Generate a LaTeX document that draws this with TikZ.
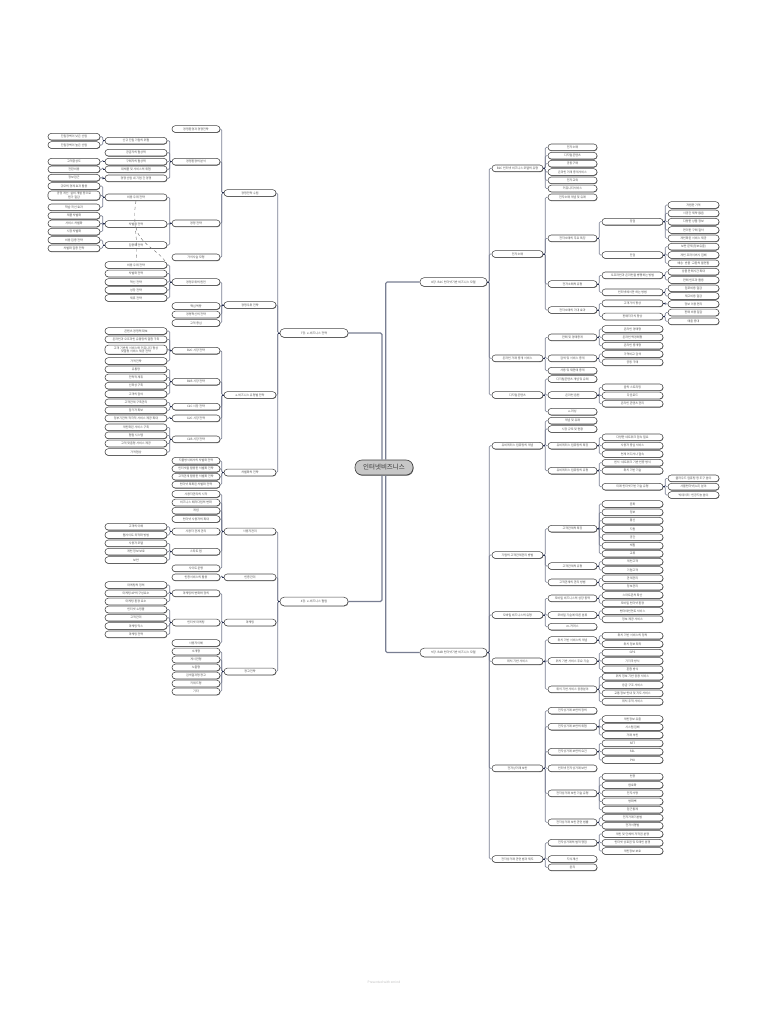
\documentclass[tikz,border=0pt]{standalone}
\usepackage{fontspec}
\setmainfont{Noto Sans CJK KR}
\usetikzlibrary{shadows}
\definecolor{linkc}{RGB}{120,126,146}
\definecolor{stubc}{RGB}{36,44,78}
\tikzset{
  mmbox/.style={draw=black!72, fill=white, rounded corners=3.2pt, line width=0.55pt,
    minimum height=6.6pt, inner sep=0.6pt, align=center, text=black!70,
    font=\fontsize{3}{3.6}\selectfont,
    drop shadow={shadow xshift=0.35pt, shadow yshift=-0.55pt, fill=black!65, opacity=1}},
  chapnode/.style={mmbox, minimum width=68pt, minimum height=8.6pt, rounded corners=4pt},
  secnode/.style={mmbox, minimum width=52pt},
  subnode/.style={mmbox, minimum width=48pt},
  itemnode/.style={mmbox, minimum width=62pt},
  leafnode/.style={mmbox, minimum width=52pt},
  rootnode/.style={draw=black!75, fill=black!22, rounded corners=7pt, line width=0.6pt,
    minimum width=58pt, minimum height=15pt, font=\fontsize{6.5}{7}\selectfont, text=black!80,
    drop shadow={shadow xshift=0.5pt, shadow yshift=-0.7pt, fill=black!60, opacity=1}},
  link/.style={draw=linkc, line width=0.6pt, rounded corners=1.2pt},
  stub/.style={draw=stubc, line width=1pt},
  rootlink/.style={draw=linkc, line width=1.1pt, rounded corners=1.5pt},
  xlink/.style={draw=black!55, line width=0.45pt, dashed}
}
% children to the left / right of a parent
\newcommand\lkids[2]{\foreach \kid in {#2}{\draw[link] (#1.west) -- ++(-2,0) |- (\kid.east);}\draw[stub] (#1.west) -- ++(-2,0);}
\newcommand\rkids[2]{\foreach \kid in {#2}{\draw[link] (#1.east) -- ++(2,0) |- (\kid.west);}\draw[stub] (#1.east) -- ++(2,0);}
\begin{document}
\begin{tikzpicture}[x=1pt, y=-1pt]
  \useasboundingbox (0,0) rectangle (768,1024);
  \fill[white] (0,0) rectangle (768,1024);

  % root and chapters
  \node[rootnode] (root) at (384,467.5) {인터넷비즈니스};
  \node[chapnode] (s7) at (314,333) {7장. e-비즈니스 전략};
  \node[chapnode] (s4) at (314,601.5) {4장. e-비즈니스 협업};
  \node[chapnode, minimum width=67pt] (s8) at (453.5,282) {8장. B2C 인터넷기반 비즈니스 모델};
  \node[chapnode, minimum width=67pt] (s9) at (453.5,652.5) {9장. B2B 인터넷기반 비즈니스 모델};
  \draw[rootlink] (s7.east) -| ([xshift=-2pt]root.north);
  \draw[rootlink] (s4.east) -| ([xshift=-2pt]root.south);
  \draw[rootlink] (s8.west) -| ([xshift=1.7pt]root.north);
  \draw[rootlink] (s9.west) -| ([xshift=1.7pt]root.south);

  % ---- 7장 ----
  \node[secnode] (a1) at (250,193) {경쟁전략 수립};
  \node[secnode] (a2) at (250,305) {경쟁우위 전략};
  \node[secnode] (a3) at (250,395) {e-비즈니스 유형별 전략};
  \node[secnode] (a4) at (250,472.5) {차별화의 전략};
  \lkids{s7}{a1,a2,a3,a4}

  \node[subnode] (c1) at (196,129) {경쟁환경과 경쟁전략};
  \node[subnode] (c2) at (196,161.7) {경쟁환경의 분석};
  \node[subnode] (c3) at (196,223.3) {경쟁 전략};
  \node[subnode] (c4) at (196,257.3) {가치사슬 모형};
  \node[subnode] (c5) at (196,282) {경쟁우위의 원천};
  \node[subnode] (c6) at (196,306) {핵심역량};
  \node[subnode] (c7) at (196,314.5) {경영혁신의 전략};
  \node[subnode] (c8) at (196,323) {고객 중심};
  \node[subnode] (c9) at (196,350.7) {B2C 시장 전략};
  \node[subnode] (c10) at (196,381.7) {B2B 시장 전략};
  \node[subnode] (c11) at (196,406.7) {C2C 시장 전략};
  \node[subnode] (c12) at (196,418.3) {G2C 시장 전략};
  \node[subnode] (c13) at (196,439.3) {C2B 시장 전략};
  \node[subnode] (c14) at (196,460.7) {지불방식에서의 차별화 전략};
  \node[subnode] (c15) at (196,468.7) {인터넷을 활용한 차별화 전략};
  \node[subnode] (c16) at (196,476.7) {고객관계 활용한 차별화 전략};
  \node[subnode] (c17) at (196,484.7) {인터넷 특화된 차별화 전략};
  \lkids{a1}{c1,c2,c3,c4}
  \lkids{a2}{c5,c6,c7,c8}
  \lkids{a3}{c9,c10,c11,c12,c13}
  \lkids{a4}{c14,c15,c16,c17}

  \node[itemnode] (d1) at (136,140.7) {신규 진입 기업의 위협};
  \node[itemnode] (d2) at (136,152.7) {공급자의 협상력};
  \node[itemnode] (d3) at (136,161.7) {구매자의 협상력};
  \node[itemnode] (d4) at (136,169.3) {대체품 및 서비스의 위협};
  \node[itemnode] (d5) at (136,178.3) {경쟁 산업 내 기업 간 경쟁};
  \node[itemnode] (d6) at (136,197.3) {비용 우위 전략};
  \node[itemnode] (d7) at (136,224) {차별화 전략};
  \node[itemnode] (d8) at (136,245) {집중화 전략};
  \node[itemnode] (d9) at (136,265) {비용 우위 전략};
  \node[itemnode] (d10) at (136,273.5) {차별화 전략};
  \node[itemnode] (d11) at (136,282) {혁신 전략};
  \node[itemnode] (d12) at (136,290) {성장 전략};
  \node[itemnode] (d13) at (136,298) {제휴 전략};
  \lkids{c2}{d1,d2,d3,d4,d5}
  \lkids{c3}{d6,d7,d8}
  \lkids{c5}{d9,d10,d11,d12,d13}

  \node[itemnode] (f1) at (136,331) {콘텐츠 경쟁력 확보};
  \node[itemnode] (f2) at (136,339.3) {온라인과 오프라인 유통망의 결합 구축};
  \node[itemnode, minimum height=9pt] (f3) at (136,349.7) {고객 기반의 서비스와 커뮤니티 형성\\맞춤형 서비스 제공 전략};
  \node[itemnode] (f4) at (136,361) {가격전략};
  \node[itemnode] (f5) at (136,369.3) {유통망};
  \node[itemnode] (f6) at (136,377.5) {전략적 제휴};
  \node[itemnode] (f7) at (136,385.7) {신뢰성 구축};
  \node[itemnode] (f8) at (136,394) {고객의 참여};
  \node[itemnode] (f9) at (136,402.3) {고객관계 구축관리};
  \node[itemnode] (f10) at (136,410.3) {참가자 확보};
  \node[itemnode] (f11) at (136,418.3) {정부기관의 적극적 서비스 제공 확대};
  \node[itemnode] (f12) at (136,427.3) {개인화된 서비스 구축};
  \node[itemnode] (f13) at (136,435.3) {협업 시스템};
  \node[itemnode] (f14) at (136,443.5) {고객 맞춤형 서비스 제공};
  \node[itemnode] (f15) at (136,452) {가격협상};
  \lkids{c9}{f1,f2,f3,f4}
  \lkids{c10}{f5,f6,f7,f8}
  \lkids{c11}{f9,f10}
  \lkids{c12}{f11}
  \lkids{c13}{f12,f13,f14,f15}

  \node[leafnode] (e1) at (74,136.7) {진입장벽이 낮은 산업};
  \node[leafnode] (e2) at (74,145) {진입장벽이 높은 산업};
  \node[leafnode] (e3) at (74,161.7) {고객충성도};
  \node[leafnode] (e4) at (74,169.3) {전환비용};
  \node[leafnode] (e5) at (74,177.7) {정보접근};
  \node[leafnode] (e6) at (74,186) {규모의 경제 효과 활용};
  \node[leafnode, minimum height=9pt] (e7) at (74,195.5) {공정 개선·설비 개발 등으로\\원가 절감};
  \node[leafnode] (e8) at (74,207.3) {학습 곡선 효과};
  \node[leafnode] (e9) at (74,215.7) {제품 차별화};
  \node[leafnode] (e10) at (74,223.5) {서비스 차별화};
  \node[leafnode] (e11) at (74,231.7) {시장 차별화};
  \node[leafnode] (e12) at (74,240) {비용 집중 전략};
  \node[leafnode] (e13) at (74,248.3) {차별화 집중 전략};
  \lkids{d1}{e1,e2}
  \lkids{d3}{e3}
  \lkids{d4}{e4}
  \lkids{d5}{e5}
  \lkids{d6}{e6,e7,e8}
  \lkids{d7}{e9,e10,e11}
  \lkids{d8}{e12,e13}

  % cross links
  \draw[xlink] (d6.south) .. controls +(-4,22) and +(3,-22) .. (d9.north);
  \draw[xlink] (d7.south) .. controls +(4,18) and +(-6,-14) .. (d9.east);

  % ---- 4장 ----
  \node[secnode] (b1) at (250,531.5) {사용자관리};
  \node[secnode] (b2) at (250,577.3) {인증관리};
  \node[secnode] (b3) at (250,622.5) {마케팅};
  \node[secnode] (b4) at (250,671.5) {광고전략};
  \lkids{s4}{b1,b2,b3,b4}

  \node[subnode] (g1) at (196,494) {사용자관리의 시작};
  \node[subnode] (g2) at (196,502.5) {비즈니스 패러다임의 변화};
  \node[subnode] (g3) at (196,510.7) {개념};
  \node[subnode] (g4) at (196,519) {인터넷 사용자의 확대};
  \node[subnode] (g5) at (196,531.5) {사용자 관계 관리};
  \node[subnode] (g6) at (196,551.7) {스타트 업};
  \node[subnode] (g7) at (196,568.3) {사이트 운영};
  \node[subnode] (g8) at (196,577.3) {인증서비스의 활용};
  \node[subnode] (g9) at (196,593.3) {마케팅의 변화와 정의};
  \node[subnode] (g10) at (196,622.5) {인터넷 마케팅};
  \node[subnode] (g11) at (196,643) {사용자이해};
  \node[subnode] (g12) at (196,651.5) {소개형};
  \node[subnode] (g13) at (196,659.5) {게시판형};
  \node[subnode] (g14) at (196,667.5) {노출형};
  \node[subnode] (g15) at (196,675.5) {검색결과형 광고};
  \node[subnode] (g16) at (196,683.5) {키워드형};
  \node[subnode] (g17) at (196,691.5) {기타};
  \lkids{b1}{g1,g2,g3,g4,g5,g6,g7}
  \lkids{b2}{g8}
  \lkids{b3}{g9,g10,g11}
  \lkids{b4}{g12,g13,g14,g15,g16,g17}

  \node[itemnode] (f16) at (136,526.7) {고객의 이해};
  \node[itemnode] (f17) at (136,535) {웹사이트 최적화 방법};
  \node[itemnode] (f18) at (136,543.3) {사용자 모델};
  \node[itemnode] (f19) at (136,551.7) {개인 정보 보호};
  \node[itemnode] (f20) at (136,560) {보안};
  \node[itemnode] (f21) at (136,585) {마케팅의 정의};
  \node[itemnode] (f22) at (136,593.3) {마케팅 4P의 구성요소};
  \node[itemnode] (f23) at (136,601.5) {마케팅 환경 요소};
  \node[itemnode] (f24) at (136,609.5) {인터넷 쇼핑몰};
  \node[itemnode] (f25) at (136,617.7) {고객관리};
  \node[itemnode] (f26) at (136,626) {마케팅 믹스};
  \node[itemnode] (f27) at (136,634.3) {마케팅 전략};
  \lkids{g5}{f16,f17}
  \lkids{g6}{f18,f19,f20}
  \lkids{g9}{f21,f22,f23}
  \lkids{g10}{f24,f25,f26,f27}

  % ---- 8장 ----
  \node[secnode, minimum width=51pt] (h1) at (517.5,168.3) {B2C 인터넷 비즈니스 모델의 유형};
  \node[secnode, minimum width=51pt] (h2) at (517.5,254) {전자소매};
  \node[secnode, minimum width=51pt] (h3) at (517.5,358.3) {온라인 거래 중개 서비스};
  \node[secnode, minimum width=51pt] (h4) at (517.5,395) {디지털콘텐츠};
  \rkids{s8}{h1,h2,h3,h4}

  \node[subnode, minimum width=49pt] (i11) at (572.5,147.3) {전자소매};
  \node[subnode, minimum width=49pt] (i12) at (572.5,155.7) {디지털콘텐츠};
  \node[subnode, minimum width=49pt] (i13) at (572.5,163.7) {공동구매};
  \node[subnode, minimum width=49pt] (i14) at (572.5,172) {온라인 거래 중개서비스};
  \node[subnode, minimum width=49pt] (i15) at (572.5,180.3) {전자교육};
  \node[subnode, minimum width=49pt] (i16) at (572.5,188.5) {커뮤니티서비스};
  \node[subnode, minimum width=49pt] (i1) at (572.5,197.3) {전자소매 개념 및 유래};
  \node[subnode, minimum width=49pt] (i2) at (572.5,238.3) {전자소매의 주요 특징};
  \node[subnode, minimum width=49pt] (i3) at (572.5,284) {전자소매의 유형};
  \node[subnode, minimum width=49pt] (i4) at (572.5,310) {전자소매의 기대 효과};
  \node[subnode, minimum width=49pt] (i5) at (572.5,337.3) {판매 및 경매중개};
  \node[subnode, minimum width=49pt] (i6) at (572.5,358.3) {검색 및 서비스 중개};
  \node[subnode, minimum width=49pt] (i7) at (572.5,370.7) {사용 및 재판매 중개};
  \node[subnode, minimum width=49pt] (i8) at (572.5,379) {디지털콘텐츠 개념 및 유래};
  \node[subnode, minimum width=49pt] (i9) at (572.5,395) {온라인 음원};
  \node[subnode, minimum width=49pt] (i10) at (572.5,411.7) {e-러닝};
  \rkids{h1}{i11,i12,i13,i14,i15,i16}
  \rkids{h2}{i1,i2,i3,i4}
  \rkids{h3}{i5,i6,i7}
  \rkids{h4}{i8,i9,i10}

  \node[itemnode, minimum width=61pt] (j1) at (632.5,221.7) {장점};
  \node[itemnode, minimum width=61pt] (j2) at (632.5,255) {단점};
  \node[itemnode, minimum width=61pt] (j3) at (632.5,275.3) {오프라인과 온라인을 병행하는 방법};
  \node[itemnode, minimum width=61pt] (j4) at (632.5,292.3) {인터넷에서만 하는 방법};
  \node[itemnode, minimum width=61pt] (j5) at (632.5,303.3) {고객가치 향상};
  \node[itemnode, minimum width=61pt] (j6) at (632.5,316.5) {판매자가치 향상};
  \node[itemnode, minimum width=61pt] (j7) at (632.5,329) {온라인 경매형};
  \node[itemnode, minimum width=61pt] (j8) at (632.5,337.3) {온라인 역경매형};
  \node[itemnode, minimum width=61pt] (j9) at (632.5,345.7) {온라인 중개형};
  \node[itemnode, minimum width=61pt] (j10) at (632.5,354) {가격비교 검색};
  \node[itemnode, minimum width=61pt] (j11) at (632.5,362.3) {공동 구매};
  \node[itemnode, minimum width=61pt] (j12) at (632.5,387.3) {음악 스트리밍};
  \node[itemnode, minimum width=61pt] (j13) at (632.5,395.5) {다운로드};
  \node[itemnode, minimum width=61pt] (j14) at (632.5,403.7) {온라인 콘텐츠 관리};
  \rkids{i2}{j1,j2}
  \rkids{i3}{j3,j4}
  \rkids{i4}{j5,j6}
  \rkids{i5}{j7,j8,j9}
  \rkids{i6}{j10,j11}
  \rkids{i9}{j12,j13,j14}

  \node[leafnode, minimum width=51pt] (m1) at (693.5,205) {저렴한 가격};
  \node[leafnode, minimum width=51pt] (m2) at (693.5,213.3) {시공간 제약 없음};
  \node[leafnode, minimum width=51pt] (m3) at (693.5,221.7) {다양한 상품 정보};
  \node[leafnode, minimum width=51pt] (m4) at (693.5,230) {편리한 구매 절차};
  \node[leafnode, minimum width=51pt] (m5) at (693.5,238.3) {개인화된 서비스 제공};
  \node[leafnode, minimum width=51pt] (m6) at (693.5,246.7) {보안 문제(정보유출)};
  \node[leafnode, minimum width=51pt] (m7) at (693.5,255) {개인 프라이버시 침해};
  \node[leafnode, minimum width=51pt] (m8) at (693.5,263.3) {배송·반품·교환의 불편함};
  \node[leafnode, minimum width=51pt] (m9) at (693.5,271.7) {상품 판매시간 확대};
  \node[leafnode, minimum width=51pt] (m10) at (693.5,280) {판매 인프라 활용};
  \node[leafnode, minimum width=51pt] (m11) at (693.5,288.3) {점포비용 절감};
  \node[leafnode, minimum width=51pt] (m12) at (693.5,296) {재고비용 절감};
  \node[leafnode, minimum width=51pt] (m13) at (693.5,304) {정보 이용 편리};
  \node[leafnode, minimum width=51pt] (m14) at (693.5,312.5) {판매 비용 절감};
  \node[leafnode, minimum width=51pt] (m15) at (693.5,321.3) {매출 증대};
  \rkids{j1}{m1,m2,m3,m4,m5}
  \rkids{j2}{m6,m7,m8}
  \rkids{j3}{m9,m10}
  \rkids{j4}{m11,m12}
  \rkids{j5}{m13}
  \rkids{j6}{m14,m15}

  % ---- 9장 ----
  \node[secnode, minimum width=51pt] (k1) at (517.5,445.7) {유비쿼터스 컴퓨팅의 개념};
  \node[secnode, minimum width=51pt] (k2) at (517.5,555) {기업의 고객관계관리 방법};
  \node[secnode, minimum width=51pt] (k3) at (517.5,615) {모바일 비즈니스의 유형};
  \node[secnode, minimum width=51pt] (k4) at (517.5,661.3) {위치 기반 서비스};
  \node[secnode, minimum width=51pt] (k5) at (517.5,768.3) {전자상거래 보안};
  \node[secnode, minimum width=51pt] (k6) at (517.5,859) {전자상거래 관련 법과 제도};
  \rkids{s9}{k1,k2,k3,k4,k5,k6}

  \node[subnode, minimum width=49pt] (l1) at (572.5,420.7) {개념 및 유래};
  \node[subnode, minimum width=49pt] (l2) at (572.5,429) {시장 규모 및 현황};
  \node[subnode, minimum width=49pt] (l3) at (572.5,445.7) {유비쿼터스 컴퓨팅의 특징};
  \node[subnode, minimum width=49pt] (l4) at (572.5,470.7) {유비쿼터스 컴퓨팅의 유형};
  \node[subnode, minimum width=49pt] (l5) at (572.5,528.7) {고객관계의 특징};
  \node[subnode, minimum width=49pt] (l6) at (572.5,566) {고객관계의 유형};
  \node[subnode, minimum width=49pt] (l7) at (572.5,582.3) {고객관계의 관리 방법};
  \node[subnode, minimum width=49pt] (l8) at (572.5,598.3) {모바일 비즈니스의 성장 동력};
  \node[subnode, minimum width=49pt] (l9) at (572.5,615) {모바일 기술에 따른 분류};
  \node[subnode, minimum width=49pt] (l10) at (572.5,626.7) {m-커머스};
  \node[subnode, minimum width=49pt] (l11) at (572.5,640) {위치 기반 서비스의 개념};
  \node[subnode, minimum width=49pt] (l12) at (572.5,661) {위치 기반 서비스 주요 기술};
  \node[subnode, minimum width=49pt] (l13) at (572.5,689.3) {위치 기반 서비스 응용분야};
  \node[subnode, minimum width=49pt] (l14) at (572.5,710.7) {전자상거래 보안의 정의};
  \node[subnode, minimum width=49pt] (l15) at (572.5,726.7) {전자상거래 보안의 위협};
  \node[subnode, minimum width=49pt] (l16) at (572.5,751.7) {전자상거래 보안의 요건};
  \node[subnode, minimum width=49pt] (l17) at (572.5,768.3) {인터넷 전자상거래 보안};
  \node[subnode, minimum width=49pt] (l18) at (572.5,793.3) {전자상거래 보안 기술 유형};
  \node[subnode, minimum width=49pt] (l19) at (572.5,822.3) {전자상거래 보안 관련 법률};
  \node[subnode, minimum width=49pt] (l20) at (572.5,842.7) {전자상거래의 법적 쟁점};
  \node[subnode, minimum width=49pt] (l21) at (572.5,859) {지식재산};
  \node[subnode, minimum width=49pt] (l22) at (572.5,867.3) {윤리};
  \rkids{k1}{l1,l2,l3,l4}
  \rkids{k2}{l5,l6,l7}
  \rkids{k3}{l8,l9,l10}
  \rkids{k4}{l11,l12,l13}
  \rkids{k5}{l14,l15,l16,l17,l18,l19}
  \rkids{k6}{l20,l21,l22}

  \node[itemnode, minimum width=61pt] (n1) at (632.5,437.3) {다양한 네트워크 접속 필요};
  \node[itemnode, minimum width=61pt] (n2) at (632.5,445.7) {사용자 중심 서비스};
  \node[itemnode, minimum width=61pt] (n3) at (632.5,454) {언제 어디서나 접속};
  \node[itemnode, minimum width=61pt] (n4) at (632.5,462.7) {센서·네트워크 기반 인증 방식};
  \node[itemnode, minimum width=61pt] (n5) at (632.5,470.7) {위치 기반 기술};
  \node[itemnode, minimum width=61pt] (n6) at (632.5,486.7) {미래 인터넷기반 기술 유형};
  \node[itemnode, minimum width=61pt] (n7) at (632.5,504) {문화};
  \node[itemnode, minimum width=61pt] (n8) at (632.5,512.3) {정보};
  \node[itemnode, minimum width=61pt] (n9) at (632.5,520.7) {통신};
  \node[itemnode, minimum width=61pt] (n10) at (632.5,529) {지원};
  \node[itemnode, minimum width=61pt] (n11) at (632.5,537.3) {공간};
  \node[itemnode, minimum width=61pt] (n12) at (632.5,545.7) {체험};
  \node[itemnode, minimum width=61pt] (n13) at (632.5,553.7) {교류};
  \node[itemnode, minimum width=61pt] (n14) at (632.5,561.7) {개인고객};
  \node[itemnode, minimum width=61pt] (n15) at (632.5,570) {기업고객};
  \node[itemnode, minimum width=61pt] (n16) at (632.5,578.3) {관계관리};
  \node[itemnode, minimum width=61pt] (n17) at (632.5,586.7) {정보관리};
  \node[itemnode, minimum width=61pt] (n18) at (632.5,595) {스마트폰의 확산};
  \node[itemnode, minimum width=61pt] (n19) at (632.5,603.3) {모바일 인터넷 환경};
  \node[itemnode, minimum width=61pt] (n20) at (632.5,611) {엔터테인먼트 서비스};
  \node[itemnode, minimum width=61pt] (n21) at (632.5,619.3) {정보 제공 서비스};
  \node[itemnode, minimum width=61pt] (n22) at (632.5,635.7) {위치 기반 서비스의 정의};
  \node[itemnode, minimum width=61pt] (n23) at (632.5,644) {위치 정보 획득};
  \node[itemnode, minimum width=61pt] (n24) at (632.5,652.7) {GPS};
  \node[itemnode, minimum width=61pt] (n25) at (632.5,661) {기지국 방식};
  \node[itemnode, minimum width=61pt] (n26) at (632.5,669.3) {혼합 방식};
  \node[itemnode, minimum width=61pt] (n27) at (632.5,676.7) {위치 정보 기반 응용 서비스};
  \node[itemnode, minimum width=61pt] (n28) at (632.5,685) {응급 구조 서비스};
  \node[itemnode, minimum width=61pt] (n29) at (632.5,693.3) {교통 정보 안내 및 지도 서비스};
  \node[itemnode, minimum width=61pt] (n30) at (632.5,701.7) {위치 추적 서비스};
  \node[itemnode, minimum width=61pt] (n31) at (632.5,719) {개인정보 유출};
  \node[itemnode, minimum width=61pt] (n32) at (632.5,727) {시스템 침해};
  \node[itemnode, minimum width=61pt] (n33) at (632.5,735) {거래 부인};
  \node[itemnode, minimum width=61pt] (n34) at (632.5,743.3) {SET};
  \node[itemnode, minimum width=61pt] (n35) at (632.5,751.7) {SSL};
  \node[itemnode, minimum width=61pt] (n36) at (632.5,760) {PKI};
  \node[itemnode, minimum width=61pt] (n37) at (632.5,776.7) {인증};
  \node[itemnode, minimum width=61pt] (n38) at (632.5,785) {암호화};
  \node[itemnode, minimum width=61pt] (n39) at (632.5,793.3) {전자서명};
  \node[itemnode, minimum width=61pt] (n40) at (632.5,801.5) {방화벽};
  \node[itemnode, minimum width=61pt] (n41) at (632.5,809.7) {접근통제};
  \node[itemnode, minimum width=61pt] (n42) at (632.5,817.7) {전자거래기본법};
  \node[itemnode, minimum width=61pt] (n43) at (632.5,825.7) {전자서명법};
  \node[itemnode, minimum width=61pt] (n44) at (632.5,834) {개인 및 단체의 저작권 분쟁};
  \node[itemnode, minimum width=61pt] (n45) at (632.5,842.7) {인터넷 상표권 및 도메인 분쟁};
  \node[itemnode, minimum width=61pt] (n46) at (632.5,851) {개인정보 보호};
  \rkids{l3}{n1,n2,n3}
  \rkids{l4}{n4,n5,n6}
  \rkids{l5}{n7,n8,n9,n10,n11,n12,n13}
  \rkids{l6}{n14,n15}
  \rkids{l7}{n16,n17}
  \rkids{l8}{n18,n19}
  \rkids{l9}{n20,n21}
  \rkids{l11}{n22,n23}
  \rkids{l12}{n24,n25,n26}
  \rkids{l13}{n27,n28,n29,n30}
  \rkids{l15}{n31,n32,n33}
  \rkids{l16}{n34,n35,n36}
  \rkids{l18}{n37,n38,n39,n40,n41}
  \rkids{l19}{n42,n43}
  \rkids{l20}{n44,n45,n46}

  \node[leafnode, minimum width=51pt] (o1) at (693.5,478.3) {클라우드 컴퓨팅 등 도구 분야};
  \node[leafnode, minimum width=51pt] (o2) at (693.5,486.7) {사물인터넷(IoT) 분야};
  \node[leafnode, minimum width=51pt] (o3) at (693.5,495) {빅데이터·인공지능 분야};
  \rkids{n6}{o1,o2,o3}

  \node[text=black!25, font=\fontsize{3.2}{4}\selectfont] (credit) at (384,982) {Presented with xmind};
\end{tikzpicture}
\end{document}
